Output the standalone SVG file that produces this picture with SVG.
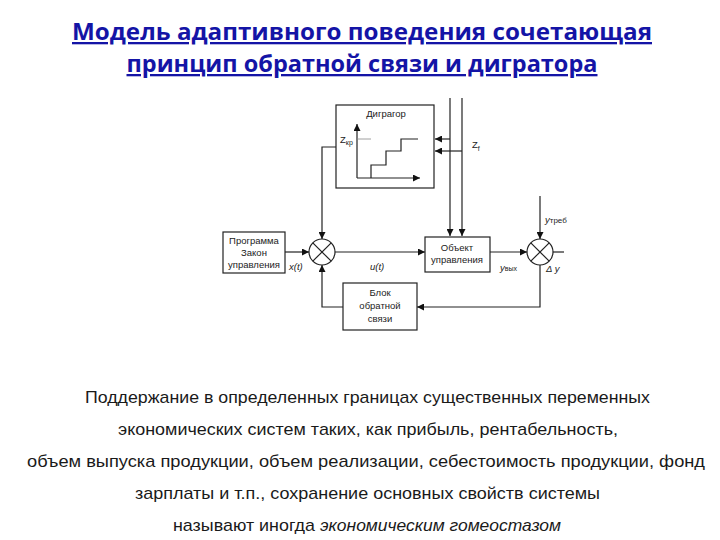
<svg xmlns="http://www.w3.org/2000/svg" width="720" height="540" viewBox="0 0 720 540">
<style>
.title{font-family:"Open Sans","Liberation Sans",sans-serif;font-weight:bold;font-size:23px;fill:#1414a6;text-decoration:underline}
.body{font-family:"Liberation Sans","DejaVu Sans",sans-serif;font-size:17px;fill:#1a1a1a}
.lbl{font-family:"Liberation Sans",Arial,sans-serif;font-size:9.5px;fill:#222}
.it{font-style:italic}
.box{fill:#fff;stroke:#222;stroke-width:1.2}
.ln{fill:none;stroke:#222;stroke-width:1.2}
</style>
<defs>
<marker id="ar" viewBox="0 0 10 10" refX="10" refY="5" markerWidth="7" markerHeight="7" orient="auto" markerUnits="userSpaceOnUse">
<path d="M0,0 L10,5 L0,10 z" fill="#111"/>
</marker>
</defs>
<rect width="720" height="540" fill="#fff"/>
<g id="title">
<text class="title" x="362" y="40" text-anchor="middle" textLength="580" lengthAdjust="spacingAndGlyphs">Модель адаптивного поведения  сочетающая</text>
<text class="title" x="362" y="72" text-anchor="middle" textLength="471" lengthAdjust="spacingAndGlyphs">принцип обратной связи и дигратора</text>
</g>
<g id="connectors">
<polyline class="ln" points="336,147 322,147 322,239" marker-end="url(#ar)"/>
<line class="ln" x1="285" y1="252" x2="309" y2="252" marker-end="url(#ar)"/>
<line class="ln" x1="335" y1="252" x2="425" y2="252" marker-end="url(#ar)"/>
<line class="ln" x1="490" y1="252" x2="527" y2="252" marker-end="url(#ar)"/>
<line class="ln" x1="540" y1="196" x2="540" y2="239" marker-end="url(#ar)"/>
<line class="ln" x1="553" y1="252" x2="564" y2="252"/>
<polyline class="ln" points="540,265 540,307 417,307" marker-end="url(#ar)"/>
<polyline class="ln" points="343,307 322,307 322,265" marker-end="url(#ar)"/>
<line class="ln" x1="450" y1="98" x2="450" y2="236" marker-end="url(#ar)" stroke="#555"/>
<line class="ln" x1="462" y1="98" x2="462" y2="236" marker-end="url(#ar)"/>
<line class="ln" x1="450" y1="139" x2="435" y2="139" marker-end="url(#ar)"/>
<line class="ln" x1="462" y1="151" x2="435" y2="151" marker-end="url(#ar)"/>
</g>
<g id="digrator">
<rect class="box" x="336" y="105" width="98" height="83"/>
<text class="lbl" x="386" y="117" text-anchor="middle">Диграгор</text>
<line class="ln" x1="357" y1="178" x2="357" y2="124" marker-end="url(#ar)"/>
<line class="ln" x1="357" y1="178" x2="420" y2="178" marker-end="url(#ar)"/>
<polyline class="ln" points="371,178 371,165 386,165 386,151 401,151 401,139 418,139"/>
<line x1="357" y1="139" x2="371" y2="139" stroke="#888" stroke-width="0.8"/>
<text class="lbl" x="340" y="143" font-size="10">Z<tspan font-size="7" dy="2">кр</tspan></text>
</g>
<g id="program">
<rect class="box" x="223" y="232" width="62" height="41"/>
<text class="lbl" x="254" y="244" text-anchor="middle">Программа</text>
<text class="lbl" x="254" y="256" text-anchor="middle">Закон</text>
<text class="lbl" x="254" y="268" text-anchor="middle">управления</text>
</g>
<g id="sum1">
<circle cx="322" cy="252" r="13" fill="#fff" stroke="#222" stroke-width="1.2"/>
<line class="ln" x1="312.8" y1="242.8" x2="331.2" y2="261.2"/>
<line class="ln" x1="331.2" y1="242.8" x2="312.8" y2="261.2"/>
</g>
<g id="object">
<rect class="box" x="425" y="237" width="65" height="35"/>
<text class="lbl" x="457" y="251" text-anchor="middle">Объект</text>
<text class="lbl" x="457" y="263" text-anchor="middle">управления</text>
</g>
<g id="sum2">
<circle cx="540" cy="252" r="13" fill="#fff" stroke="#222" stroke-width="1.2"/>
<line class="ln" x1="530.8" y1="242.8" x2="549.2" y2="261.2"/>
<line class="ln" x1="549.2" y1="242.8" x2="530.8" y2="261.2"/>
</g>
<g id="feedback">
<rect class="box" x="343" y="283" width="74" height="47"/>
<text class="lbl" x="380" y="296" text-anchor="middle">Блок</text>
<text class="lbl" x="380" y="309" text-anchor="middle">обратной</text>
<text class="lbl" x="380" y="322" text-anchor="middle">связи</text>
</g>
<g id="labels">
<text class="lbl it" x="289" y="270">x(t)</text>
<text class="lbl it" x="370" y="270">u(t)</text>
<text class="lbl it" x="500" y="271">y<tspan font-size="7" font-style="normal">вых</tspan></text>
<text class="lbl it" x="546" y="272">Δ y</text>
<text class="lbl it" x="545" y="223">y<tspan font-size="8" font-style="normal">треб</tspan></text>
<text class="lbl" x="472" y="148" font-size="10">Z<tspan font-size="7" dy="3">f</tspan></text>
</g>
<g id="text">
<text class="body" x="85" y="403" textLength="565" lengthAdjust="spacingAndGlyphs">Поддержание в определенных границах существенных переменных</text>
<text class="body" x="118" y="435" textLength="500" lengthAdjust="spacingAndGlyphs">экономических систем таких, как прибыль, рентабельность,</text>
<text class="body" x="27" y="467" textLength="678" lengthAdjust="spacingAndGlyphs">объем выпуска продукции, объем реализации, себестоимость   продукции, фонд</text>
<text class="body" x="135" y="499" textLength="465" lengthAdjust="spacingAndGlyphs">зарплаты и т.п., сохранение основных свойств системы</text>
<text class="body" x="173" y="531" textLength="142" lengthAdjust="spacingAndGlyphs">называют иногда</text>
<text class="body it" x="320" y="531" textLength="241" lengthAdjust="spacingAndGlyphs">экономическим гомеостазом</text>
</g>
</svg>
